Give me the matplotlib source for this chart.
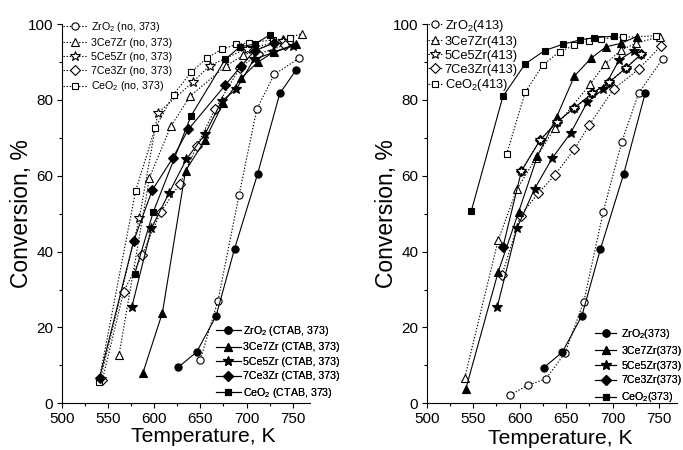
import matplotlib
matplotlib.use("Agg")
import matplotlib.pyplot as plt
from matplotlib.ticker import MultipleLocator

plt.rcParams['font.family'] = ['Liberation Sans', 'DejaVu Sans']
plt.rcParams['mathtext.fontset'] = 'custom'
plt.rcParams['mathtext.rm'] = 'Liberation Sans'
plt.rcParams['mathtext.it'] = 'Liberation Sans:italic'
plt.rcParams['mathtext.bf'] = 'Liberation Sans:bold'

# ---- lewy panel: próbki bez CTAB (no) i z CTAB, 373 ----
zro2_no_t = [650, 669, 692, 711, 730, 757]
zro2_no_x = [11.5, 27, 55, 77.5, 86.7, 91]
ce37_no_t = [562, 595, 618, 639, 678, 696, 739, 760]
ce37_no_x = [12.7, 59.5, 73, 81, 89, 91.7, 96, 97.4]
ce55_no_t = [542, 584, 604, 642, 660, 700, 740]
ce55_no_x = [6.5, 48.8, 76.5, 84.7, 89, 93.5, 95.5]
ce73_no_t = [544, 567, 587, 607, 628, 646, 666, 693, 712, 742]
ce73_no_x = [6.1, 29.4, 39.1, 50.4, 57.9, 67.8, 77.6, 88.5, 92, 94.5]
ceo2_no_t = [540, 580, 601, 621, 640, 657, 673, 689, 703, 729, 747]
ceo2_no_x = [5.5, 56, 72.5, 81.4, 87.3, 91, 93.3, 94.6, 95.1, 95.8, 96.2]

zro2_ctab_t = [626, 646, 667, 687, 712, 736, 754]
zro2_ctab_x = [9.5, 13.5, 23, 40.7, 60.5, 81.7, 88]
ce37_ctab_t = [588, 609, 634, 655, 675, 694, 712, 730, 754]
ce37_ctab_x = [8.1, 23.9, 61.3, 69.4, 79.3, 85.7, 89.9, 92.7, 94.7]
ce55_ctab_t = [576, 597, 616, 635, 655, 673, 689, 708, 729, 750]
ce55_ctab_x = [25.5, 46.1, 55.4, 64.4, 70.9, 79.7, 82.8, 90.7, 92.5, 94.2]
ce73_ctab_t = [541, 578, 598, 620, 637, 677, 694, 709, 730]
ce73_ctab_x = [6.8, 42.9, 56.2, 64.6, 72.2, 83.9, 88.9, 93, 95]
ceo2_ctab_t = [579, 599, 640, 677, 693, 709, 725]
ceo2_ctab_x = [34.1, 50.4, 75.8, 90.7, 94, 94.7, 97.1]

# ---- prawy panel: 413 i 373 ----
zro2_413_t = [590, 609, 628, 649, 669, 690, 710, 728, 754]
zro2_413_x = [2.2, 4.8, 6.4, 13.3, 26.8, 50.5, 69, 81.7, 90.9]
ce37_413_t = [541, 577, 597, 618, 638, 676, 692, 709, 725, 751]
ce37_413_x = [6.8, 43.1, 56.4, 64.8, 72.7, 84.2, 89.4, 93.1, 94.9, 96.7]
ce55_413_t = [602, 622, 640, 659, 678, 696, 714, 731]
ce55_413_x = [61.3, 69.4, 74.1, 77.9, 81.7, 84.6, 88.3, 92.1]
ce73_413_t = [581, 601, 620, 638, 659, 675, 701, 728, 752]
ce73_413_x = [33.8, 49.5, 55.4, 60.2, 67, 73.4, 82.8, 88.1, 94.2]
ceo2_413_t = [586, 606, 625, 643, 659, 675, 688, 711, 747]
ceo2_413_x = [65.7, 82, 89.2, 92.7, 94.4, 95.6, 96.1, 96.5, 96.9]

zro2_373_t = [626, 646, 667, 687, 712, 735]
zro2_373_x = [9.4, 13.5, 23.1, 40.7, 60.5, 81.7]
ce37_373_t = [542, 577, 599, 619, 640, 659, 677, 693, 709, 726]
ce37_373_x = [3.7, 34.7, 50.5, 65.1, 75.6, 86.3, 91, 94, 94.9, 96.7]
ce55_373_t = [576, 597, 616, 635, 655, 673, 690, 707, 723]
ce55_373_x = [25.5, 46.1, 56.5, 64.6, 71.3, 79.5, 82.8, 90.5, 93]
ce73_373_t = [582, 602, 622, 640, 659, 678, 696, 714, 731]
ce73_373_x = [41.2, 61.3, 69.4, 74.1, 77.9, 81.7, 84.6, 88.3, 92.1]
ceo2_373_t = [548, 582, 606, 627, 647, 665, 680, 702]
ceo2_373_x = [50.7, 80.9, 89.5, 93, 94.7, 95.8, 96.4, 96.8]

MARKERS = {'o': 5.2, '^': 6, '*': 7.5, 'D': 4.7, 's': 4.8}


def draw(ax, t, x, label, marker, filled):
    line, = ax.plot(t, x, color='black', lw=0.8,
                    ls='-' if filled else (0, (1.2, 1.6)),
                    marker=marker, ms=MARKERS[marker],
                    mfc='black' if filled else 'white', mec='black', mew=0.8,
                    label=label, zorder=3 if filled else 2)
    return line


def style_axes(ax):
    ax.set_xlim(500, 769)
    ax.set_ylim(0, 100)
    ax.spines['top'].set_visible(False)
    ax.spines['right'].set_visible(False)
    ax.xaxis.set_major_locator(MultipleLocator(50))
    ax.xaxis.set_minor_locator(MultipleLocator(25))
    ax.yaxis.set_major_locator(MultipleLocator(20))
    ax.yaxis.set_minor_locator(MultipleLocator(10))
    ax.tick_params(which='both', direction='out', width=0.8, labelsize=11)
    ax.tick_params(which='major', length=3.5, pad=2.5)
    ax.tick_params(which='minor', length=2)
    ax.set_xlabel('Temperature, K', fontsize=15.2)
    ax.set_ylabel('Conversion, %', fontsize=16.5)
    ax.yaxis.set_label_coords(-0.115, 0.5)


fig = plt.figure(figsize=(6.83, 4.5), dpi=100)
W, H = 683.0, 450.0
ax1 = fig.add_axes([61.7 / W, 1 - 403.3 / H, 248.6 / W, 379.3 / H])
ax2 = fig.add_axes([426.7 / W, 1 - 403.3 / H, 250.0 / W, 379.3 / H])

# lewy
no_lines = [
    draw(ax1, zro2_no_t, zro2_no_x, 'ZrO$_2$ (no, 373)', 'o', False),
    draw(ax1, ce37_no_t, ce37_no_x, '3Ce7Zr (no, 373)', '^', False),
    draw(ax1, ce55_no_t, ce55_no_x, '5Ce5Zr (no, 373)', '*', False),
    draw(ax1, ce73_no_t, ce73_no_x, '7Ce3Zr (no, 373)', 'D', False),
    draw(ax1, ceo2_no_t, ceo2_no_x, 'CeO$_2$ (no, 373)', 's', False),
]
ctab_lines = [
    draw(ax1, zro2_ctab_t, zro2_ctab_x, 'ZrO$_2$ (CTAB, 373)', 'o', True),
    draw(ax1, ce37_ctab_t, ce37_ctab_x, '3Ce7Zr (CTAB, 373)', '^', True),
    draw(ax1, ce55_ctab_t, ce55_ctab_x, '5Ce5Zr (CTAB, 373)', '*', True),
    draw(ax1, ce73_ctab_t, ce73_ctab_x, '7Ce3Zr (CTAB, 373)', 'D', True),
    draw(ax1, ceo2_ctab_t, ceo2_ctab_x, 'CeO$_2$ (CTAB, 373)', 's', True),
]

# prawy
l413 = [
    draw(ax2, zro2_413_t, zro2_413_x, 'ZrO$_2$(413)', 'o', False),
    draw(ax2, ce37_413_t, ce37_413_x, '3Ce7Zr(413)', '^', False),
    None,
    draw(ax2, ce73_413_t, ce73_413_x, '7Ce3Zr(413)', 'D', False),
    draw(ax2, ceo2_413_t, ceo2_413_x, 'CeO$_2$(413)', 's', False),
]
l373 = [
    draw(ax2, zro2_373_t, zro2_373_x, 'ZrO$_2$(373)', 'o', True),
    draw(ax2, ce37_373_t, ce37_373_x, '3Ce7Zr(373)', '^', True),
    draw(ax2, ce55_373_t, ce55_373_x, '5Ce5Zr(373)', '*', True),
    draw(ax2, ce73_373_t, ce73_373_x, '7Ce3Zr(373)', 'D', True),
    draw(ax2, ceo2_373_t, ceo2_373_x, 'CeO$_2$(373)', 's', True),
]
# gwiazdki 5Ce5Zr(413) leżą na rombach 7Ce3Zr(373)
l413[2] = draw(ax2, ce55_413_t, ce55_413_x, '5Ce5Zr(413)', '*', False)
l413[2].set_zorder(4)

style_axes(ax1)
style_axes(ax2)
ax1.xaxis.set_label_coords(0.568, -0.062)
ax2.xaxis.set_label_coords(0.536, -0.068)


def legend(ax, handles, x, y, fs, hl, pad, spacing):
    leg = ax.legend(handles=handles, loc='upper left',
                    bbox_to_anchor=(x / W, 1 - y / H), bbox_transform=fig.transFigure,
                    frameon=False, fontsize=fs, handlelength=hl, handletextpad=pad,
                    labelspacing=spacing, borderpad=0, borderaxespad=0, numpoints=1)
    ax.add_artist(leg)
    return leg


legend(ax1, no_lines, 63, 20, 7.7, 2.2, 0.45, 0.36)
legend(ax1, ctab_lines, 216, 324, 7.7, 2.3, 0.25, 0.42)
legend(ax2, l413, 428, 18, 9.3, 1.1, 0.2, 0.14)
legend(ax2, l373, 595, 327, 7.7, 2.0, 0.45, 0.45)

fig.savefig('out.png', dpi=100)
